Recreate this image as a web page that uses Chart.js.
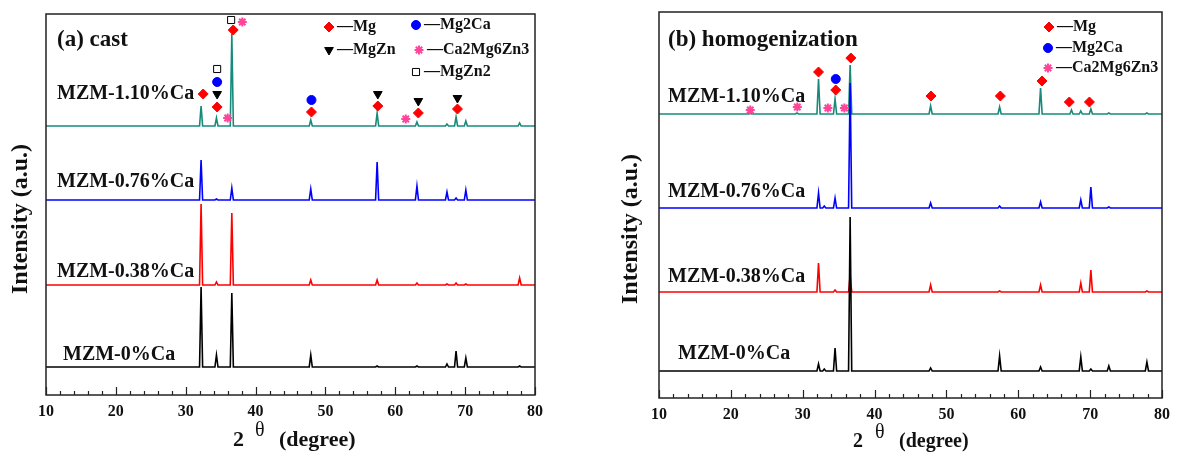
<!DOCTYPE html>
<html>
<head>
<meta charset="utf-8">
<script src="https://cdn.jsdelivr.net/npm/chart.js@4.4.1/dist/chart.umd.min.js"></script>
<style>
body { margin: 0; background: #fff; }
#castChart { position: absolute; left: 0; top: 0; }
#homoChart { position: absolute; left: 590px; top: 0; }
</style>
</head>
<body>
<canvas id="castChart" width="590" height="460"></canvas>
<canvas id="homoChart" width="587" height="460"></canvas>
<script>
// axis
var xTicks = [10, 20, 30, 40, 50, 60, 70, 80];
var xMinorStep = 2;
var samples = ['MZM-0%Ca', 'MZM-0.38%Ca', 'MZM-0.76%Ca', 'MZM-1.10%Ca'];
var lineColors = ['#000000', '#ff0000', '#0000ff', '#178a7b'];

// (a) cast - peak positions (2theta) and peak heights above each baseline (a.u.)
var castPos   = [32.2, 34.4, 36.6, 47.9, 57.4, 63.1, 67.4, 68.7, 70.1, 77.8];
var cast0     = [80, 12, 74, 12, 1, 1, 3, 16, 9, 1];
var cast038   = [81, 3, 72, 5, 5, 2, 1, 2, 1, 7];
var cast076   = [40, 1, 12, 11, 38, 14, 8, 2, 10, 0];
var cast110   = [20, 8, 92, 6, 13, 4, 2, 9, 5, 3];
var castOffsets = [28, 110, 195, 269];

// (b) homogenization
var homoPos   = [22.7, 29.2, 32.2, 33.0, 34.5, 36.6, 47.8, 57.4, 63.1, 67.4, 68.7, 70.1, 72.6, 77.9];
var homo0     = [0, 0, 7, 2, 23, 154, 3, 15, 4, 0, 14, 2, 5, 9];
var homo038   = [0, 0, 29, 0, 2, 17, 7, 1, 7, 0, 9, 22, 0, 1];
var homo076   = [0, 0, 15, 2, 10, 125, 5, 2, 6, 0, 8, 21, 1, 0];
var homo110   = [1, 1, 35, 0, 15, 49, 8, 7, 26, 4, 3, 5, 1, 1];
var homoOffsets = [27, 106, 190, 284];

// phase markers [2theta, a.u.]
var castMg        = [[32.5, 301], [34.5, 288], [36.8, 365], [48.0, 283], [57.5, 289], [63.3, 282], [68.9, 286]];
var castMgZn      = [[34.5, 301], [57.5, 301], [63.3, 294], [68.9, 297]];
var castMg2Ca     = [[34.5, 313], [48.0, 295]];
var castCa2Mg6Zn3 = [[36.0, 277], [38.1, 373], [61.5, 276]];
var castMgZn2     = [[34.5, 326], [36.5, 375]];

var homoMg        = [[32.2, 326], [34.6, 308], [36.7, 340], [47.85, 302], [57.5, 302], [63.3, 317], [67.1, 296], [69.9, 296]];
var homoMg2Ca     = [[34.6, 319]];
var homoCa2Mg6Zn3 = [[22.7, 288], [29.25, 291], [33.5, 290], [35.8, 290]];

var phaseStyle = {
  Mg:        { pointStyle: 'rectRot',  radius: 5,   fill: '#ff0000', stroke: '#ff0000', width: 1, rotation: 0 },
  MgZn:      { pointStyle: 'triangle', radius: 5,   fill: '#000000', stroke: '#000000', width: 1, rotation: 180 },
  Mg2Ca:     { pointStyle: 'circle',   radius: 4.5, fill: '#0000ff', stroke: '#0000ff', width: 1, rotation: 0 },
  Ca2Mg6Zn3: { pointStyle: 'star',     radius: 4.5, fill: '#ff4499', stroke: '#ff4499', width: 2, rotation: 0 },
  MgZn2:     { pointStyle: 'rect',     radius: 5,   fill: '#ffffff', stroke: '#000000', width: 1, rotation: 0 }
};

var FONT = '"Liberation Serif", "Times New Roman", serif';

function pattern(pos, heights, offset) {
  var pts = [{ x: 10, y: offset }];
  for (var i = 0; i < pos.length; i++) {
    if (!heights[i]) continue;
    pts.push({ x: pos[i] - 0.22, y: offset });
    pts.push({ x: pos[i], y: offset + heights[i] });
    pts.push({ x: pos[i] + 0.22, y: offset });
  }
  pts.push({ x: 80, y: offset });
  return pts;
}

function markerSet(points, phase) {
  var s = phaseStyle[phase];
  return {
    label: phase,
    data: points.map(function (p) { return { x: p[0], y: p[1] }; }),
    showLine: false,
    pointStyle: s.pointStyle,
    pointRadius: s.radius,
    pointHoverRadius: s.radius,
    pointRotation: s.rotation,
    pointBackgroundColor: s.fill,
    pointBorderColor: s.stroke,
    pointBorderWidth: s.width,
    order: 0
  };
}

function drawMarker(ctx, phase, x, y) {
  var s = phaseStyle[phase];
  ctx.save();
  ctx.fillStyle = s.fill;
  ctx.strokeStyle = s.stroke;
  ctx.lineWidth = s.width;
  Chart.helpers.drawPoint(ctx, { pointStyle: s.pointStyle, radius: s.radius, rotation: s.rotation, borderWidth: s.width }, x, y);
  ctx.restore();
}

function decorations(cfg) {
  return {
    id: 'decor',
    afterDatasetsDraw: function (chart) {
      var ctx = chart.ctx, a = chart.chartArea, xs = chart.scales.x;
      ctx.save();
      ctx.strokeStyle = '#222';
      ctx.lineWidth = 1.5;
      ctx.strokeRect(a.left, a.top, a.right - a.left, a.bottom - a.top);
      ctx.lineWidth = 1.2;
      ctx.beginPath();
      for (var v = xTicks[0]; v <= xTicks[xTicks.length - 1]; v += xMinorStep) {
        var px = Math.round(xs.getPixelForValue(v)) + 0.5;
        var len = xTicks.indexOf(v) >= 0 ? 8 : 4;
        ctx.moveTo(px, a.bottom);
        ctx.lineTo(px, a.bottom - len);
      }
      ctx.stroke();
      ctx.restore();
    },
    afterDraw: function (chart) {
      var ctx = chart.ctx, a = chart.chartArea, xs = chart.scales.x;
      var t = cfg.xTitle;
      ctx.save();
      ctx.fillStyle = '#111';
      ctx.textBaseline = 'middle';

      ctx.font = 'bold 16px ' + FONT;
      ctx.textAlign = 'center';
      xTicks.forEach(function (tick) {
        ctx.fillText(String(tick), xs.getPixelForValue(tick), a.bottom + 17);
      });

      // x title: "2 θ  (degree)"
      ctx.textAlign = 'left';
      ctx.font = 'bold ' + t.size + 'px ' + FONT;
      ctx.fillText('2', t.two, t.y);
      ctx.font = '20px ' + FONT;
      ctx.fillText('\u03b8', t.theta, t.y - 9);
      ctx.font = 'bold ' + t.size + 'px ' + FONT;
      ctx.fillText('(degree)', t.deg, t.y);

      ctx.save();
      ctx.translate(cfg.yTitle[0], cfg.yTitle[1]);
      ctx.rotate(-Math.PI / 2);
      ctx.textAlign = 'center';
      ctx.font = 'bold 24px ' + FONT;
      ctx.fillText('Intensity (a.u.)', 0, 0);
      ctx.restore();

      ctx.font = 'bold 23px ' + FONT;
      ctx.fillText(cfg.title, cfg.titlePos[0], cfg.titlePos[1]);

      ctx.font = 'bold 20px ' + FONT;
      samples.forEach(function (name, i) {
        ctx.fillText(name, cfg.labelPos[i][0], cfg.labelPos[i][1]);
      });

      ctx.font = 'bold 16px ' + FONT;
      cfg.legend.forEach(function (l) {
        drawMarker(ctx, l[0], l[1], l[2]);
        ctx.fillStyle = '#111';
        ctx.fillText('\u2014' + l[0], l[1] + 8, l[2]);
      });
      ctx.restore();
    }
  };
}

function makePanel(id, cfg) {
  var datasets = cfg.series.map(function (vals, i) {
    return {
      label: samples[i],
      data: pattern(cfg.pos, vals, cfg.offsets[i]),
      showLine: true,
      borderColor: lineColors[i],
      borderWidth: 1.6,
      pointRadius: 0,
      tension: 0,
      order: i + 1
    };
  });
  cfg.markers.forEach(function (m) { datasets.push(markerSet(m[1], m[0])); });

  return new Chart(document.getElementById(id), {
    type: 'scatter',
    data: { datasets: datasets },
    options: {
      responsive: false,
      animation: false,
      layout: { padding: cfg.padding },
      plugins: { legend: { display: false }, tooltip: { enabled: false } },
      scales: {
        x: { type: 'linear', min: 10, max: 80, display: false },
        y: { type: 'linear', min: 0, max: cfg.ymax, display: false }
      }
    },
    plugins: [decorations(cfg)]
  });
}

makePanel('castChart', {
  pos: castPos,
  series: [cast0, cast038, cast076, cast110],
  offsets: castOffsets,
  markers: [['MgZn2', castMgZn2], ['Ca2Mg6Zn3', castCa2Mg6Zn3], ['Mg2Ca', castMg2Ca], ['MgZn', castMgZn], ['Mg', castMg]],
  padding: { left: 46, right: 55, top: 14, bottom: 65 },
  ymax: 381,
  title: '(a) cast',
  titlePos: [57, 40],
  labelPos: [[63, 355], [57, 272], [57, 182], [57, 94]],
  legend: [['Mg', 329, 27], ['MgZn', 329, 50], ['Mg2Ca', 416, 25], ['Ca2Mg6Zn3', 419, 50], ['MgZn2', 416, 72]],
  yTitle: [21, 219],
  xTitle: { two: 233, theta: 255, deg: 279, y: 440, size: 22 }
});

makePanel('homoChart', {
  pos: homoPos,
  series: [homo0, homo038, homo076, homo110],
  offsets: homoOffsets,
  markers: [['Ca2Mg6Zn3', homoCa2Mg6Zn3], ['Mg2Ca', homoMg2Ca], ['Mg', homoMg]],
  padding: { left: 69, right: 15, top: 12, bottom: 62 },
  ymax: 386,
  title: '(b) homogenization',
  titlePos: [78, 40],
  labelPos: [[88, 354], [78, 277], [78, 192], [78, 97]],
  legend: [['Mg', 459, 27], ['Mg2Ca', 458, 48], ['Ca2Mg6Zn3', 458, 68]],
  yTitle: [41, 229],
  xTitle: { two: 263, theta: 285, deg: 309, y: 442, size: 20 }
});
</script>
</body>
</html>
